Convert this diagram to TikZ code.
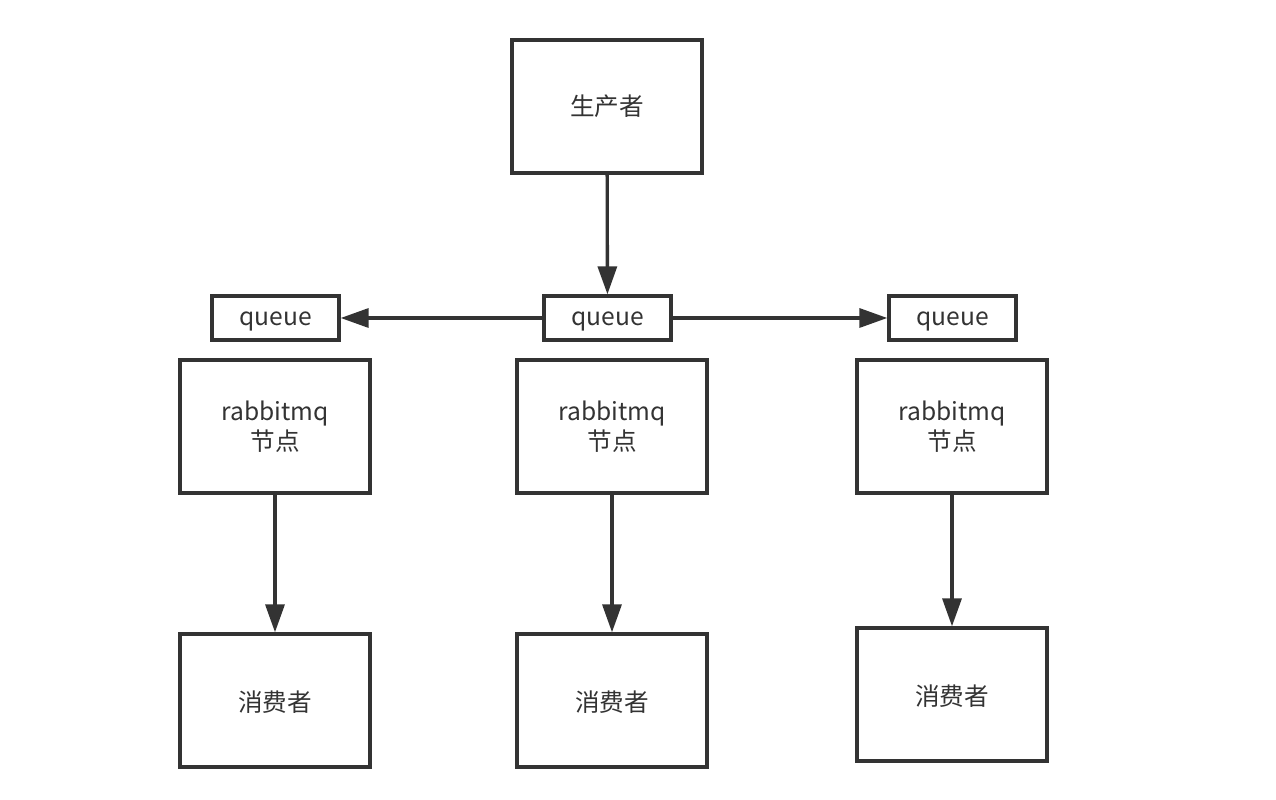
\documentclass[tikz,border=0pt]{standalone}
\usepackage{fontspec}
\setmainfont{Noto Sans CJK SC}
\usetikzlibrary{arrows.meta,positioning}
\definecolor{ink}{HTML}{333333}
\tikzset{
  big box/.style={draw=ink,line width=1.9pt,minimum width=3.8cm,minimum height=2.66cm,inner sep=0pt,align=center,text=ink,font=\fontsize{14}{17}\selectfont},
  queue box/.style={draw=ink,line width=1.9pt,minimum width=2.54cm,minimum height=0.88cm,inner sep=0pt,text height=0.9em,text depth=0pt,text=ink,font=\fontsize{14}{17}\selectfont},
  end box/.style={big box,text height=1.2em,text depth=0pt},
  msg edge/.style={draw=ink,line width=1.9pt,-{Triangle[length=5.6mm,width=3.8mm]}},
}

\begin{document}
\begin{tikzpicture}[x=0.02cm,y=-0.02cm]
  \useasboundingbox (0,0) rectangle (1276,800);
  \node[big box,text height=1em,text depth=0pt] (prod) at (607,106.5) {生产者};
  \node[queue box] (qm) at (607.5,318) {queue};
  \node[queue box] (ql) at (275.5,318) {queue};
  \node[queue box] (qr) at (952.5,318) {queue};
  \node[big box] (rl) at (275,426.5) {rabbitmq\\节点};
  \node[big box] (rm) at (612,426.5) {rabbitmq\\节点};
  \node[big box] (rr) at (952,426.5) {rabbitmq\\节点};
  \node[end box] (cl) at (275,700.5) {消费者};
  \node[end box] (cm) at (612,700.5) {消费者};
  \node[end box] (cr) at (952,694.5) {消费者};
  \draw[msg edge] (prod) -- (qm);
  \draw[msg edge] (qm) -- (ql);
  \draw[msg edge] (qm) -- (qr);
  \draw[msg edge] (rl) -- (cl);
  \draw[msg edge] (rm) -- (cm);
  \draw[msg edge] (rr) -- (cr);
\end{tikzpicture}
\end{document}
